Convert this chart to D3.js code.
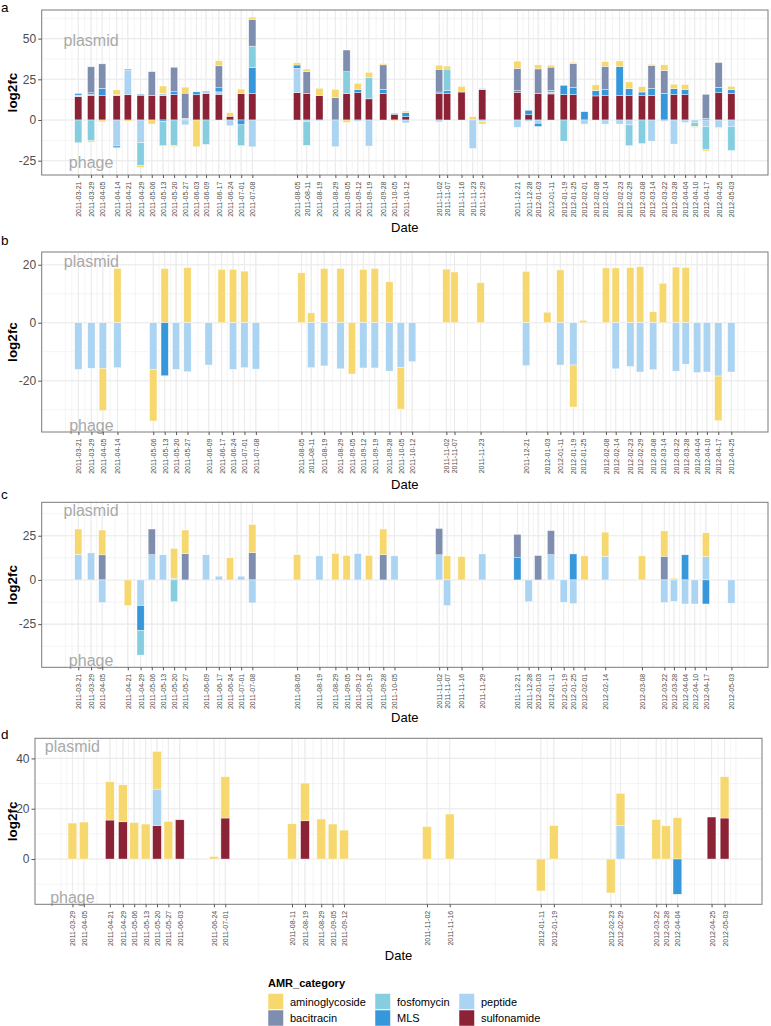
<!DOCTYPE html>
<html><head><meta charset="utf-8">
<script src="https://cdn.jsdelivr.net/npm/d3@7"></script>
<style>body{margin:0;background:#fff;} text{font-family:"Liberation Sans",Arial,sans-serif;}</style>
</head><body><svg id="chart" width="771" height="1026"></svg>
<script>
// ---------- categories ----------
const categories = ["aminoglycoside","bacitracin","fosfomycin","MLS","peptide","sulfonamide"];
const categoryColors = ["#F6D86F","#7F8DAF","#86CEDF","#3797DB","#AAD4F1","#8C2236"];
const stackOrder = ["sulfonamide","peptide","MLS","fosfomycin","bacitracin","aminoglycoside"];

// ---------- panel a ----------
const ticksA = ["2011-03-21","2011-03-29","2011-04-05","2011-04-14","2011-04-21","2011-04-29","2011-05-06","2011-05-13","2011-05-20","2011-05-27","2011-06-03","2011-06-09","2011-06-17","2011-06-24","2011-07-01","2011-07-08","2011-08-05","2011-08-11","2011-08-19","2011-08-29","2011-09-05","2011-09-12","2011-09-19","2011-09-28","2011-10-05","2011-10-12","2011-11-02","2011-11-07","2011-11-16","2011-11-23","2011-11-29","2011-12-21","2011-12-28","2012-01-03","2012-01-11","2012-01-19","2012-01-25","2012-02-01","2012-02-08","2012-02-14","2012-02-23","2012-02-29","2012-03-08","2012-03-14","2012-03-22","2012-03-28","2012-04-04","2012-04-10","2012-04-17","2012-04-25","2012-05-03"];
const plasmidA = [
 {date:"2011-03-21",sulfonamide:14.3,peptide:1,MLS:1},
 {date:"2011-03-29",sulfonamide:15.2,peptide:0.5,MLS:1,bacitracin:16},
 {date:"2011-04-05",sulfonamide:15,MLS:4.5,bacitracin:15},
 {date:"2011-04-14",sulfonamide:15,peptide:0.5,aminoglycoside:3},
 {date:"2011-04-21",sulfonamide:15.5,peptide:15.2,MLS:0.6},
 {date:"2011-04-29",sulfonamide:15,MLS:0.8},
 {date:"2011-05-06",sulfonamide:15,bacitracin:14.7},
 {date:"2011-05-13",sulfonamide:15,peptide:1.4,aminoglycoside:4.5},
 {date:"2011-05-20",sulfonamide:15.6,MLS:1.8,bacitracin:15},
 {date:"2011-05-27",peptide:1,bacitracin:15.5,aminoglycoside:3.7},
 {date:"2011-06-03",sulfonamide:15.5,MLS:1.8},
 {date:"2011-06-09",sulfonamide:16.2,peptide:0.6,MLS:0.8},
 {date:"2011-06-17",sulfonamide:15.8,peptide:1.5,MLS:2.5,bacitracin:13.5,aminoglycoside:3.1},
 {date:"2011-06-24",sulfonamide:2.3,aminoglycoside:2.2},
 {date:"2011-07-01",sulfonamide:16.2,aminoglycoside:2.8},
 {date:"2011-07-08",sulfonamide:16.4,MLS:16,fosfomycin:13,bacitracin:16.4,aminoglycoside:1.4},
 {date:"2011-08-05",sulfonamide:16.8,peptide:15,MLS:2,aminoglycoside:1.4},
 {date:"2011-08-11",sulfonamide:16.2,bacitracin:13.5,aminoglycoside:1.6},
 {date:"2011-08-19",sulfonamide:15,aminoglycoside:4.5},
 {date:"2011-08-29",bacitracin:13.7,aminoglycoside:5.1},
 {date:"2011-09-05",sulfonamide:16.2,fosfomycin:13.5,bacitracin:13.3},
 {date:"2011-09-12",sulfonamide:16.8,MLS:2,aminoglycoside:3.7},
 {date:"2011-09-19",sulfonamide:13,fosfomycin:13,aminoglycoside:3.3},
 {date:"2011-09-28",sulfonamide:16.2,MLS:2.7,bacitracin:15,aminoglycoside:0.8},
 {date:"2011-10-05",sulfonamide:3.5,MLS:0.5},
 {date:"2011-10-12",sulfonamide:2,MLS:2.5,aminoglycoside:1},
 {date:"2011-11-02",sulfonamide:16.2,MLS:1,bacitracin:14,aminoglycoside:2.5},
 {date:"2011-11-07",sulfonamide:16.2,MLS:1.8,fosfomycin:13.3,aminoglycoside:1.8},
 {date:"2011-11-16",sulfonamide:17.2,aminoglycoside:3.5},
 {date:"2011-11-23",aminoglycoside:2},
 {date:"2011-11-29",sulfonamide:18.6,peptide:0.8},
 {date:"2011-12-21",sulfonamide:17,MLS:1,bacitracin:13.7,aminoglycoside:4.5},
 {date:"2011-12-28",sulfonamide:3.2,MLS:2.8},
 {date:"2012-01-03",sulfonamide:16.4,bacitracin:15,aminoglycoside:2.5},
 {date:"2012-01-11",sulfonamide:16,peptide:1.2,MLS:1,bacitracin:14.3,aminoglycoside:1.2},
 {date:"2012-01-19",sulfonamide:15.6,MLS:5.7},
 {date:"2012-01-25",sulfonamide:15.6,MLS:4.3,bacitracin:14.8,aminoglycoside:0.8},
 {date:"2012-02-01",MLS:5.1},
 {date:"2012-02-08",sulfonamide:14.8,MLS:3.3,aminoglycoside:3.5},
 {date:"2012-02-14",sulfonamide:15,MLS:3.7,bacitracin:14.3,aminoglycoside:2.9},
 {date:"2012-02-23",sulfonamide:15,MLS:17.8,aminoglycoside:3.5},
 {date:"2012-02-29",sulfonamide:15,MLS:4.3,aminoglycoside:4.1},
 {date:"2012-03-08",sulfonamide:15,MLS:2.2,aminoglycoside:3.3},
 {date:"2012-03-14",sulfonamide:15,MLS:4.3,bacitracin:14.1,aminoglycoside:0.8},
 {date:"2012-03-22",MLS:16.4,bacitracin:14,aminoglycoside:3.5},
 {date:"2012-03-28",sulfonamide:15.6,MLS:3.7,aminoglycoside:2.7},
 {date:"2012-04-04",sulfonamide:15.6,MLS:3.1,aminoglycoside:3.1},
 {date:"2012-04-17",MLS:1,bacitracin:14.8},
 {date:"2012-04-25",sulfonamide:16.8,MLS:3.3,bacitracin:15.2},
 {date:"2012-05-03",sulfonamide:16.2,MLS:2.5,aminoglycoside:2}
];
const phageA = [
 {date:"2011-03-21",fosfomycin:-14},
 {date:"2011-03-29",fosfomycin:-12.8,aminoglycoside:-0.8},
 {date:"2011-04-05",aminoglycoside:-1.2},
 {date:"2011-04-14",peptide:-16,MLS:-1},
 {date:"2011-04-21",aminoglycoside:-0.8},
 {date:"2011-04-29",peptide:-14,fosfomycin:-14,aminoglycoside:-1.2},
 {date:"2011-05-06",aminoglycoside:-2.5},
 {date:"2011-05-13",MLS:-1,fosfomycin:-14.8},
 {date:"2011-05-20",fosfomycin:-15.8,aminoglycoside:-0.6},
 {date:"2011-05-27",peptide:-3},
 {date:"2011-06-03",aminoglycoside:-16.5},
 {date:"2011-06-09",fosfomycin:-15},
 {date:"2011-06-24",peptide:-3.5},
 {date:"2011-07-01",MLS:-3,fosfomycin:-12.8},
 {date:"2011-07-08",peptide:-16.5},
 {date:"2011-08-11",peptide:-0.8,fosfomycin:-14.8},
 {date:"2011-08-19",peptide:-0.6},
 {date:"2011-08-29",peptide:-16.4},
 {date:"2011-09-05",aminoglycoside:-1.5},
 {date:"2011-09-12",peptide:-0.8},
 {date:"2011-09-19",peptide:-16},
 {date:"2011-10-05",aminoglycoside:-0.6},
 {date:"2011-10-12",peptide:-1.8},
 {date:"2011-11-02",peptide:-1.2},
 {date:"2011-11-23",peptide:-17.5},
 {date:"2011-11-29",peptide:-1,aminoglycoside:-1.5},
 {date:"2011-12-21",peptide:-4.5},
 {date:"2011-12-28",peptide:-0.8},
 {date:"2012-01-03",peptide:-2,MLS:-2},
 {date:"2012-01-19",fosfomycin:-13},
 {date:"2012-02-01",peptide:-2.5},
 {date:"2012-02-14",peptide:-2.5},
 {date:"2012-02-23",peptide:-2.5},
 {date:"2012-02-29",peptide:-3,fosfomycin:-12.8},
 {date:"2012-03-08",fosfomycin:-14.5},
 {date:"2012-03-14",peptide:-13},
 {date:"2012-03-22",peptide:-0.8},
 {date:"2012-03-28",peptide:-14.8},
 {date:"2012-04-04",peptide:-1.5},
 {date:"2012-04-10",peptide:-1.5,fosfomycin:-2.5,aminoglycoside:-0.6},
 {date:"2012-04-17",peptide:-4,fosfomycin:-14.3,aminoglycoside:-0.8},
 {date:"2012-04-25",peptide:-4.5,aminoglycoside:-0.6},
 {date:"2012-05-03",peptide:-4,fosfomycin:-14.8}
];

// ---------- panel b ----------
const ticksB = ["2011-03-21","2011-03-29","2011-04-05","2011-04-14","2011-05-06","2011-05-13","2011-05-20","2011-05-27","2011-06-09","2011-06-17","2011-06-24","2011-07-01","2011-07-08","2011-08-05","2011-08-11","2011-08-19","2011-08-29","2011-09-05","2011-09-12","2011-09-19","2011-09-28","2011-10-05","2011-10-12","2011-11-02","2011-11-07","2011-11-23","2011-12-21","2012-01-03","2012-01-11","2012-01-19","2012-01-25","2012-02-08","2012-02-14","2012-02-23","2012-02-29","2012-03-08","2012-03-14","2012-03-22","2012-03-28","2012-04-04","2012-04-10","2012-04-17","2012-04-25"];
const plasmidB = [
 {date:"2011-04-14",aminoglycoside:18.7},{date:"2011-05-13",aminoglycoside:18.7},
 {date:"2011-05-27",aminoglycoside:19},{date:"2011-06-17",aminoglycoside:18.4},
 {date:"2011-06-24",aminoglycoside:18.4},{date:"2011-07-01",aminoglycoside:17.8},
 {date:"2011-08-05",aminoglycoside:17.2},{date:"2011-08-11",aminoglycoside:3.4},
 {date:"2011-08-19",aminoglycoside:18.7},{date:"2011-08-29",aminoglycoside:18.7},
 {date:"2011-09-12",aminoglycoside:18.4},{date:"2011-09-19",aminoglycoside:18.7},
 {date:"2011-09-28",aminoglycoside:14.1},{date:"2011-11-02",aminoglycoside:18.5},
 {date:"2011-11-07",aminoglycoside:17.5},{date:"2011-11-23",aminoglycoside:13.8},
 {date:"2011-12-21",aminoglycoside:17.7},{date:"2012-01-03",aminoglycoside:3.6},
 {date:"2012-01-11",aminoglycoside:18.2},{date:"2012-01-25",aminoglycoside:0.8},
 {date:"2012-02-08",aminoglycoside:18.9},{date:"2012-02-14",aminoglycoside:18.9},
 {date:"2012-02-23",aminoglycoside:19},{date:"2012-02-29",aminoglycoside:19.3},
 {date:"2012-03-08",aminoglycoside:3.8},{date:"2012-03-14",aminoglycoside:13.6},
 {date:"2012-03-22",aminoglycoside:19.2},{date:"2012-03-28",aminoglycoside:19.1}
];
const phageB = [
 {date:"2011-03-21",peptide:-16.1},{date:"2011-03-29",peptide:-15.7},
 {date:"2011-04-05",peptide:-15.7,aminoglycoside:-14.6},{date:"2011-04-14",peptide:-15.5},
 {date:"2011-05-06",peptide:-16.1,aminoglycoside:-17.8},{date:"2011-05-13",MLS:-18.3},
 {date:"2011-05-20",peptide:-16.1},{date:"2011-05-27",peptide:-16.9},
 {date:"2011-06-09",peptide:-14.6},{date:"2011-06-24",peptide:-16.1},
 {date:"2011-07-01",peptide:-15.5},{date:"2011-07-08",peptide:-16},
 {date:"2011-08-11",peptide:-15.5},{date:"2011-08-19",peptide:-14.9},
 {date:"2011-08-29",peptide:-15.9},{date:"2011-09-05",aminoglycoside:-17.7},
 {date:"2011-09-12",peptide:-15.6},{date:"2011-09-19",peptide:-15.6},
 {date:"2011-09-28",peptide:-16.7},{date:"2011-10-05",peptide:-15.5,aminoglycoside:-14.3},
 {date:"2011-10-12",peptide:-13.4},{date:"2011-12-21",peptide:-14.8},
 {date:"2012-01-11",peptide:-14.6},{date:"2012-01-19",peptide:-14.6,aminoglycoside:-14.5},
 {date:"2012-02-14",peptide:-15.9},{date:"2012-02-23",peptide:-15.1},
 {date:"2012-02-29",peptide:-17},{date:"2012-03-08",peptide:-16.2},
 {date:"2012-03-22",peptide:-16.7},{date:"2012-03-28",peptide:-14.3},
 {date:"2012-04-04",peptide:-17.2},{date:"2012-04-10",peptide:-17},
 {date:"2012-04-17",peptide:-18.4,aminoglycoside:-15.4},{date:"2012-04-25",peptide:-17}
];

// ---------- panel c ----------
const ticksC = ["2011-03-21","2011-03-29","2011-04-05","2011-04-21","2011-04-29","2011-05-06","2011-05-13","2011-05-20","2011-05-27","2011-06-09","2011-06-17","2011-06-24","2011-07-01","2011-07-08","2011-08-05","2011-08-19","2011-08-29","2011-09-05","2011-09-12","2011-09-19","2011-09-28","2011-10-05","2011-11-02","2011-11-07","2011-11-16","2011-11-29","2011-12-21","2011-12-28","2012-01-03","2012-01-11","2012-01-19","2012-01-25","2012-02-01","2012-02-14","2012-03-08","2012-03-22","2012-03-28","2012-04-04","2012-04-10","2012-04-17","2012-05-03"];
const plasmidC = [
 {date:"2011-03-21",peptide:14.5,aminoglycoside:14.3},{date:"2011-03-29",peptide:15.3},
 {date:"2011-04-05",bacitracin:14.2,aminoglycoside:14},{date:"2011-05-06",peptide:14.3,bacitracin:14.5},
 {date:"2011-05-13",peptide:14.2},{date:"2011-05-20",peptide:1,aminoglycoside:16.8},
 {date:"2011-05-27",bacitracin:14.8,aminoglycoside:13.4},{date:"2011-06-09",peptide:14.2},
 {date:"2011-06-17",peptide:2.1},{date:"2011-06-24",aminoglycoside:12.5},
 {date:"2011-07-01",peptide:2.1},{date:"2011-07-08",bacitracin:15.5,aminoglycoside:15.8},
 {date:"2011-08-05",aminoglycoside:14.3},{date:"2011-08-19",peptide:13.6},
 {date:"2011-08-29",aminoglycoside:14.9},{date:"2011-09-05",aminoglycoside:13.8},
 {date:"2011-09-12",peptide:14.9},{date:"2011-09-19",aminoglycoside:13.8},
 {date:"2011-09-28",bacitracin:14.3,aminoglycoside:14.5},{date:"2011-10-05",peptide:13.6},
 {date:"2011-11-02",peptide:14.2,bacitracin:14.9},{date:"2011-11-07",aminoglycoside:13.6},
 {date:"2011-11-16",aminoglycoside:13.2},{date:"2011-11-29",peptide:14.7},
 {date:"2011-12-21",MLS:12.6,bacitracin:13.2},{date:"2012-01-03",bacitracin:13.8},
 {date:"2012-01-11",peptide:14.3,bacitracin:13.6},{date:"2012-01-25",MLS:14.7},
 {date:"2012-02-01",aminoglycoside:13.6},{date:"2012-02-14",peptide:13.4,aminoglycoside:13.6},
 {date:"2012-03-08",aminoglycoside:13.6},{date:"2012-03-22",bacitracin:13.4,aminoglycoside:14.3},
 {date:"2012-03-28",aminoglycoside:1},{date:"2012-04-04",MLS:14.2},
 {date:"2012-04-17",peptide:13.2,aminoglycoside:13.4}
];
const phageC = [
 {date:"2011-04-05",peptide:-12.8},{date:"2011-04-21",aminoglycoside:-14.5},
 {date:"2011-04-29",peptide:-14.5,MLS:-14,fosfomycin:-14},{date:"2011-05-20",fosfomycin:-12.3},
 {date:"2011-07-08",peptide:-13},{date:"2011-11-07",peptide:-14.5},
 {date:"2011-12-28",peptide:-12.3},{date:"2012-01-19",peptide:-12.6},
 {date:"2012-01-25",peptide:-13.4},{date:"2012-03-22",peptide:-12.8},
 {date:"2012-03-28",peptide:-12.1},{date:"2012-04-04",peptide:-13.6},
 {date:"2012-04-10",peptide:-13.6},{date:"2012-04-17",MLS:-13.6},
 {date:"2012-05-03",peptide:-13.2}
];

// ---------- panel d ----------
const ticksD = ["2011-03-29","2011-04-05","2011-04-21","2011-04-29","2011-05-06","2011-05-13","2011-05-20","2011-05-27","2011-06-03","2011-06-24","2011-07-01","2011-08-11","2011-08-19","2011-08-29","2011-09-05","2011-09-12","2011-11-02","2011-11-16","2012-01-11","2012-01-19","2012-02-23","2012-02-29","2012-03-22","2012-03-28","2012-04-04","2012-04-25","2012-05-03"];
const plasmidD = [
 {date:"2011-03-29",aminoglycoside:14.3},{date:"2011-04-05",aminoglycoside:14.7},
 {date:"2011-04-21",sulfonamide:15.5,aminoglycoside:15.2},{date:"2011-04-29",sulfonamide:14.8,aminoglycoside:14.7},
 {date:"2011-05-06",aminoglycoside:14.5},{date:"2011-05-13",aminoglycoside:13.9},
 {date:"2011-05-20",sulfonamide:13.3,peptide:14.5,aminoglycoside:15},{date:"2011-05-27",aminoglycoside:14.9},
 {date:"2011-06-03",sulfonamide:15.6},{date:"2011-06-24",aminoglycoside:1},
 {date:"2011-07-01",sulfonamide:16.3,aminoglycoside:16.4},{date:"2011-08-11",aminoglycoside:14},
 {date:"2011-08-19",sulfonamide:15.2,aminoglycoside:15},{date:"2011-08-29",aminoglycoside:15.9},
 {date:"2011-09-05",aminoglycoside:13.9},{date:"2011-09-12",aminoglycoside:11.5},
 {date:"2011-11-02",aminoglycoside:12.9},{date:"2011-11-16",aminoglycoside:17.9},
 {date:"2012-01-19",aminoglycoside:13.3},{date:"2012-02-29",peptide:13.3,aminoglycoside:12.8},
 {date:"2012-03-22",aminoglycoside:15.7},{date:"2012-03-28",aminoglycoside:13.2},
 {date:"2012-04-04",aminoglycoside:16.4},{date:"2012-04-25",sulfonamide:16.7},
 {date:"2012-05-03",sulfonamide:16.3,aminoglycoside:16.4}
];
const phageD = [
 {date:"2012-01-11",aminoglycoside:-12.7},{date:"2012-02-23",aminoglycoside:-13.5},
 {date:"2012-04-04",MLS:-14}
];

// ---------- drawing ----------
const svg = d3.select("#chart");
svg.append("rect").attr("width",771).attr("height",1026).attr("fill","#fff");
const parse = d3.utcParse("%Y-%m-%d");
const fmt = d3.utcFormat("%Y-%m-%d");
const DAY = 864e5;
const color = d3.scaleOrdinal().domain(categories).range(categoryColors);
const GRID = "#EBEBEB", AXIS_TXT = "#4D4D4D";

function minorBreaks(b, dom) {
  b = b.slice();
  const bd = b[1] - b[0];
  if (dom[0] < b[0]) b.unshift(b[0] - bd);
  if (dom[1] > b[b.length - 1]) b.push(b[b.length - 1] + bd);
  const out = [];
  for (let i = 0; i < b.length - 1; i++) out.push(b[i], (b[i] + b[i + 1]) / 2);
  out.push(b[b.length - 1]);
  return out.filter(v => v >= dom[0] && v <= dom[1]);
}

function drawPanel(cfg) {
  const {letter, ticks, plasmid, phage, box, yDomain, yTicks, plasmidY, phageY, letterY, dateY} = cfg;
  const dates = ticks.map(parse);
  const res = d3.min(d3.pairs(dates, (a, b) => (b - a) / DAY));
  const w = 0.9 * res;
  const span = (dates[dates.length - 1] - dates[0]) / DAY + w;
  const pad = span * 0.05 + w / 2;
  const x = d3.scaleUtc()
    .domain([new Date(+dates[0] - pad * DAY), new Date(+dates[dates.length - 1] + pad * DAY)])
    .range([box.l, box.r]);
  const y = d3.scaleLinear().domain(yDomain).range([box.b, box.t]);
  const g = svg.append("g");

  // grid
  const xd = x.domain().map(Number);
  const xMinor = minorBreaks(dates.map(Number), xd);
  const yMinor = minorBreaks(yTicks, yDomain);
  const grid = g.append("g");
  grid.selectAll(".ymin").data(yMinor).join("line")
    .attr("x1", box.l).attr("x2", box.r).attr("y1", d => y(d)).attr("y2", d => y(d))
    .attr("stroke", GRID).attr("stroke-width", 0.55);
  grid.selectAll(".xmin").data(xMinor).join("line")
    .attr("y1", box.t).attr("y2", box.b).attr("x1", d => x(new Date(d))).attr("x2", d => x(new Date(d)))
    .attr("stroke", GRID).attr("stroke-width", 0.55);
  grid.selectAll(".ymaj").data(yTicks).join("line")
    .attr("x1", box.l).attr("x2", box.r).attr("y1", d => y(d)).attr("y2", d => y(d))
    .attr("stroke", GRID).attr("stroke-width", 1.1);
  grid.selectAll(".xmaj").data(dates).join("line")
    .attr("y1", box.t).attr("y2", box.b).attr("x1", d => x(d)).attr("x2", d => x(d))
    .attr("stroke", GRID).attr("stroke-width", 1.1);

  // bars
  const rowsP = plasmid.map(r => Object.assign({}, r, {d: parse(r.date)}));
  const rowsN = phage.map(r => Object.assign({}, r, {d: parse(r.date)}));
  const stP = d3.stack().keys(stackOrder).value((r, k) => r[k] || 0)(rowsP);
  const stN = d3.stack().keys(stackOrder).value((r, k) => r[k] || 0).offset(d3.stackOffsetDiverging)(rowsN);
  const bars = g.append("g");
  [stP, stN].forEach(st => {
    st.forEach(series => {
      bars.append("g").attr("fill", color(series.key))
        .selectAll("rect").data(series.filter(s => s[1] !== s[0])).join("rect")
        .attr("x", s => x(new Date(+s.data.d - w / 2 * DAY)))
        .attr("width", s => x(new Date(+s.data.d + w / 2 * DAY)) - x(new Date(+s.data.d - w / 2 * DAY)))
        .attr("y", s => y(Math.max(s[0], s[1])))
        .attr("height", s => Math.abs(y(s[0]) - y(s[1])))
        .attr("stroke", "#fff").attr("stroke-width", 0.5).attr("stroke-opacity", 0.8);
    });
  });

  // annotations
  const annX = x(parse("2011-03-29"));
  g.append("text").attr("x", annX).attr("y", y(plasmidY)).attr("text-anchor", "middle")
    .attr("dominant-baseline", "central").attr("font-size", 16).attr("fill", "#A9A9A9").text("plasmid");
  g.append("text").attr("x", annX).attr("y", y(phageY)).attr("text-anchor", "middle")
    .attr("dominant-baseline", "central").attr("font-size", 16).attr("fill", "#A9A9A9").text("phage");

  // border
  g.append("rect").attr("x", box.l).attr("y", box.t).attr("width", box.r - box.l).attr("height", box.b - box.t)
    .attr("fill", "none").attr("stroke", "#7a7a7a").attr("stroke-width", 1);

  // axes
  const ya = g.append("g").attr("transform", `translate(${box.l},0)`)
    .call(d3.axisLeft(y).tickValues(yTicks).tickSize(3.5).tickPadding(2).tickFormat(d => String(d)));
  ya.select(".domain").remove();
  ya.selectAll("line").attr("stroke", "#555");
  ya.selectAll("text").attr("font-size", 12).attr("fill", AXIS_TXT).attr("font-family", "Liberation Sans, Arial, sans-serif");

  const xa = g.append("g").attr("transform", `translate(0,${box.b})`)
    .call(d3.axisBottom(x).tickValues(dates).tickSize(3).tickFormat(fmt));
  xa.select(".domain").remove();
  xa.selectAll("line").attr("stroke", "#555");
  xa.selectAll("text").attr("font-size", 7).attr("fill", AXIS_TXT)
    .attr("font-family", "Liberation Sans, Arial, sans-serif")
    .attr("transform", "rotate(-90)").attr("x", -6.5).attr("y", 0).attr("dy", "0.35em")
    .attr("text-anchor", "end");

  // titles
  g.append("text").attr("transform", `translate(17,${(box.t + box.b) / 2}) rotate(-90)`)
    .attr("text-anchor", "middle").attr("font-size", 13.5).attr("font-weight", "bold").attr("fill", "#000").text("log2fc");
  g.append("text").attr("x", (box.l + box.r) / 2).attr("y", dateY).attr("text-anchor", "middle")
    .attr("font-size", 13).attr("fill", "#000").text("Date");
  g.append("text").attr("x", 1).attr("y", letterY).attr("font-size", 13.5).attr("fill", "#000").text(letter);
}

drawPanel({letter:"a", ticks:ticksA, plasmid:plasmidA, phage:phageA,
  box:{l:41.7, r:768, t:10, b:175}, yDomain:[-33.8, 67.6], yTicks:[-25,0,25,50],
  plasmidY:49, phageY:-26.4, letterY:12, dateY:231.5});
drawPanel({letter:"b", ticks:ticksB, plasmid:plasmidB, phage:phageB,
  box:{l:41.7, r:768, t:252, b:432}, yDomain:[-37.7, 24.4], yTicks:[-20,0,20],
  plasmidY:21, phageY:-35.5, letterY:245, dateY:488.5});
drawPanel({letter:"c", ticks:ticksC, plasmid:plasmidC, phage:phageC,
  box:{l:41.7, r:768, t:502.3, b:667.3}, yDomain:[-49.4, 43.9], yTicks:[-25,0,25],
  plasmidY:39.2, phageY:-45.8, letterY:499, dateY:721.5});
drawPanel({letter:"d", ticks:ticksD, plasmid:plasmidD, phage:phageD,
  box:{l:35, r:762, t:738.3, b:904.3}, yDomain:[-18, 48], yTicks:[0,20,40],
  plasmidY:44.6, phageY:-15.4, letterY:739, dateY:959.5});

// legend
const lg = svg.append("g");
lg.append("text").attr("x", 268).attr("y", 987).attr("font-size", 11).attr("font-weight", "bold").text("AMR_category");
const colX = [268, 375, 459], rowY = [993.5, 1010];
categories.forEach((c, i) => {
  const cx = colX[Math.floor(i / 2)], cy = rowY[i % 2];
  lg.append("rect").attr("x", cx).attr("y", cy).attr("width", 15.5).attr("height", 16)
    .attr("fill", color(c)).attr("stroke", "#fff").attr("stroke-width", 0.5);
  lg.append("text").attr("x", cx + 22).attr("y", cy + 8).attr("dominant-baseline", "central")
    .attr("font-size", 11).attr("fill", "#000").text(c);
});
</script></body></html>
